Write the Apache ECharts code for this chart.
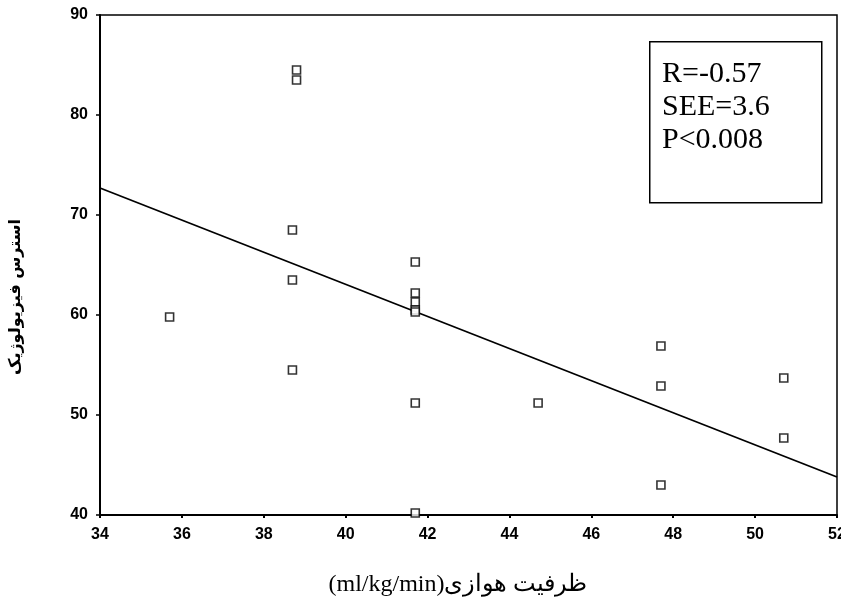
<!DOCTYPE html>
<html>
<head>
<meta charset="utf-8">
<script src="https://cdn.jsdelivr.net/npm/echarts@6/dist/echarts.min.js"></script>
<style>
html,body{margin:0;padding:0;background:#fff;}
#c{width:841px;height:603px;}
</style>
</head>
<body>
<div id="c"></div>
<script>
// Data
const xValues = [35.7, 38.8, 38.8, 38.7, 38.7, 38.7, 41.7, 41.7, 41.7, 41.7, 41.7, 41.7, 41.7, 44.7, 47.7, 47.7, 47.7, 50.7, 50.7];
const yValues = [59.8, 84.5, 83.5, 68.5, 63.5, 54.5, 65.3, 62.2, 61.3, 60.5, 60.3, 51.2, 40.2, 51.2, 56.9, 52.9, 43.0, 53.7, 47.7];
const fitX = [34, 52];
const fitY = [72.7, 43.8];
const xTicks = [34, 36, 38, 40, 42, 44, 46, 48, 50, 52];
const yTicks = [40, 50, 60, 70, 80, 90];
const statLines = ['R=-0.57', 'SEE=3.6', 'P<0.008'];
const xTitle = '(ml/kg/min)ظرفیت هوازی';
const yTitle = 'استرس فیزیولوژیک';

const points = xValues.map((x, i) => [x, yValues[i]]);
const fitLine = fitX.map((x, i) => [x, fitY[i]]);

const chart = echarts.init(document.getElementById('c'), null, {renderer: 'canvas'});
const tickFont = {color: '#000', fontFamily: 'Liberation Sans, Arial, sans-serif', fontSize: 16, fontWeight: 'bold'};

chart.setOption({
  animation: false,
  backgroundColor: '#fff',
  grid: {left: 100, right: 4, top: 15, bottom: 88, outerBoundsMode: 'none', containLabel: false,
         show: true, borderColor: '#000', borderWidth: 1.5, backgroundColor: 'transparent'},
  xAxis: {
    type: 'value', min: xTicks[0], max: xTicks[xTicks.length - 1], interval: 2,
    splitLine: {show: false},
    axisLine: {lineStyle: {color: '#000', width: 2}},
    axisTick: {show: true, length: 3, inside: false, lineStyle: {color: '#000', width: 2}},
    axisLabel: Object.assign({margin: 12}, tickFont)
  },
  yAxis: {
    type: 'value', min: yTicks[0], max: yTicks[yTicks.length - 1], interval: 10,
    splitLine: {show: false},
    axisLine: {lineStyle: {color: '#000', width: 2}},
    axisTick: {show: true, length: 4, lineStyle: {color: '#000', width: 1.5}},
    axisLabel: Object.assign({margin: 12}, tickFont)
  },
  graphic: [
    {type: 'rect', left: 649, top: 41, shape: {width: 172, height: 161}, style: {fill: '#fff', stroke: '#000', lineWidth: 1.5}, z: 10},
    {type: 'text', left: 662, top: 58, style: {text: statLines.join('\n'), fill: '#000', font: '30px "Liberation Serif", "Times New Roman", serif', lineHeight: 33}, z: 11},
    {type: 'text', x: 16, y: 297, rotation: Math.PI / 2,
     style: {text: yTitle, fill: '#000', font: 'bold 16px "DejaVu Sans", "Noto Sans", sans-serif', textAlign: 'center', textVerticalAlign: 'middle'}, z: 11},
    {type: 'text', x: 458, y: 585,
     style: {text: xTitle, fill: '#000', font: '24px "Liberation Serif", "DejaVu Serif", serif', textAlign: 'center', textVerticalAlign: 'middle'}, z: 11}
  ],
  series: [
    {
      type: 'line', data: fitLine, showSymbol: false, symbol: 'none',
      lineStyle: {color: '#000', width: 1.8}, z: 2
    },
    {
      type: 'scatter', data: points, symbol: 'rect', symbolSize: 8,
      itemStyle: {color: '#fff', borderColor: '#000', borderWidth: 1.6}, z: 3
    }
  ]
});
</script>
</body>
</html>
